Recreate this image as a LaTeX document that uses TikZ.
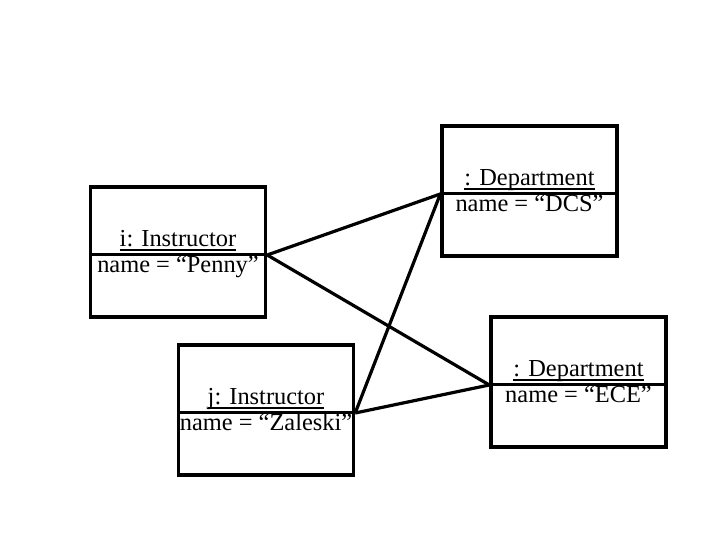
\documentclass[tikz,border=0pt]{standalone}
\usepackage{fontspec}
\setmainfont{Liberation Serif}
\begin{document}
\begin{tikzpicture}[x=1pt,y=1pt,
  objbox/.style={draw, line width=3.4pt, minimum width=175pt, minimum height=130pt, inner sep=0pt},
  txt/.style={inner sep=0pt, anchor=base, font=\fontsize{24.4}{25}\selectfont},
  link/.style={line width=3.2pt},
  divrule/.style={line width=3pt},
  uline/.style={line width=1.4pt}]
\useasboundingbox (0,0) rectangle (720,540);
\foreach \n/\cx/\cy/\ta/\tb in {
  dcs/529.5/349/{: Department}/{name = “DCS”},
  i/178/288/{i: Instructor}/{name = “Penny”},
  j/266/130/{j: Instructor}/{name = “Zaleski”},
  ece/578.5/158/{: Department}/{name = “ECE”}}{
  \node[objbox] (\n) at (\cx,\cy) {};
  \coordinate (\n-dw) at ([yshift=-3pt]\n.west);
  \coordinate (\n-de) at ([yshift=-3pt]\n.east);
  \draw[divrule] (\n-dw) -- (\n-de);
  \node[txt] (\n-t) at (\cx,\cy+5) {\ta};
  \draw[uline] ([yshift=-3pt]\n-t.base west) -- ([yshift=-3pt]\n-t.base east);
  \node[txt] (\n-a) at (\cx,\cy-21) {\tb};
}
\draw[link] (i-de) -- (dcs-dw);
\draw[link] (i-de) -- (ece-dw);
\draw[link] (j-de) -- (dcs-dw);
\draw[link] (j-de) -- (ece-dw);
\end{tikzpicture}
\end{document}
